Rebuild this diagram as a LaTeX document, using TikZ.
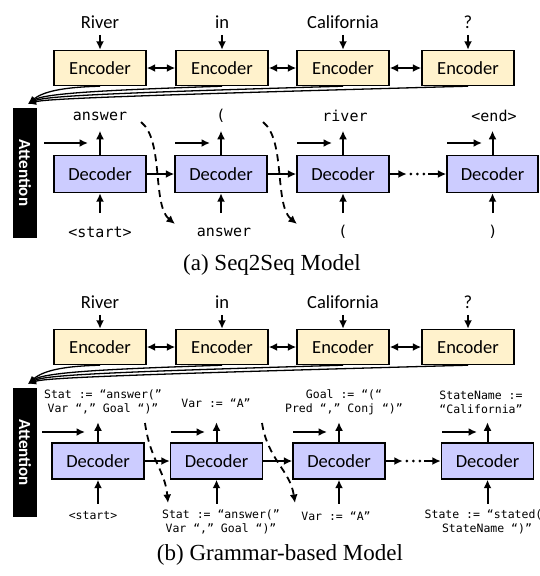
\documentclass[tikz,border=0pt]{standalone}
\usepackage{fontspec}
\setmainfont{Liberation Serif}
\newfontfamily\calib{Carlito}
\newfontfamily\monof{DejaVu Sans Mono}
\usetikzlibrary{arrows.meta}

\definecolor{encfill}{HTML}{FFF2CC}
\definecolor{decfill}{HTML}{CCCCFF}

\begin{document}
\begin{tikzpicture}[x=1pt,y=-1pt,
  box/.style={draw, line width=1.4pt, inner sep=0pt, minimum width=92pt,
    font=\calib\fontsize{18.5}{20}\selectfont},
  enc/.style={box, fill=encfill, minimum height=35pt},
  dec/.style={box, fill=decfill, minimum height=37pt},
  word/.style={inner sep=0pt, font=\calib\fontsize{18.5}{20}\selectfont},
  tokA/.style={inner sep=0pt, font=\monof\fontsize{15}{17}\selectfont},
  tokB/.style={inner sep=0pt, align=center, font=\monof\fontsize{11.5}{14}\selectfont},
  tip/.tip={Latex[length=8.5pt,width=8pt]},
  arr/.style={line width=2pt, -tip},
  biarr/.style={line width=2pt, tip-tip},
  feed/.style={line width=1.8pt, dash pattern=on 7pt off 5pt, -tip},
  attn/.style={line width=1.3pt, -{Latex[length=8pt,width=7pt]}},
  attbar/.style={fill=black, minimum width=24pt, inner sep=0pt},
  attlabel/.style={rotate=-90, text=white, inner sep=0pt,
    font=\calib\bfseries\fontsize{17}{17}\selectfont},
  dotrow/.style={line width=3pt, line cap=round, dash pattern=on 0pt off 6.5pt},
  caption/.style={inner sep=0pt, font=\fontsize{23}{26}\selectfont}
]
\useasboundingbox (0,0) rectangle (539,576);

% ================= (a) Seq2Seq model =================
% encoder row
\node[enc] (ea1) at (100,68) {Encoder};
\node[enc] (ea2) at (222,68) {Encoder};
\node[enc] (ea3) at (343,68) {Encoder};
\node[enc] (ea4) at (468,68) {Encoder};
\node[word] (wa1) at (100,22) {River};
\node[word] (wa2) at (222,22) {in};
\node[word] (wa3) at (343,22) {California};
\node[word] (wa4) at (468,22) {?};
\foreach \i in {1,...,4} \draw[arr] ([yshift=15pt]ea\i.north) -- (ea\i.north);
\draw[biarr] (ea1) -- (ea2);
\draw[biarr] (ea2) -- (ea3);
\draw[biarr] (ea3) -- (ea4);

% attention bar
\node[attbar, minimum height=130pt] (atta) at (25,173) {};
\node[attlabel] (attaT) at (atta.center) {Attention};
\coordinate (attaIn) at ([shift={(3pt,4pt)}]atta.north);
\draw[attn] (ea1.south) .. controls (70,87) and (45,90) .. (attaIn);
\draw[attn] (ea2.south) .. controls (110,90) and (45,93) .. (attaIn);
\draw[attn] (ea3.south) .. controls (110,93) and (45,96) .. (attaIn);
\draw[attn] (ea4.south) .. controls (110,96) and (45,99) .. (attaIn);

% decoder row
\node[dec] (da1) at (100,174) {Decoder};
\node[dec] (da2) at (221,174) {Decoder};
\node[dec] (da3) at (343,174) {Decoder};
\node[dec, minimum width=91pt] (da4) at (492.5,174) {Decoder};
\node[inner sep=0pt, minimum width=21pt, minimum height=4pt] (dA) at (417.5,174) {};
\draw[arr] (da1) -- (da2);
\draw[arr] (da2) -- (da3);
\draw[arr] (da3.east) -- (dA.west);
\draw[dotrow] ([xshift=4pt]dA.west) -- ([xshift=-3pt]dA.east);
\draw[arr] (dA.east) -- (da4.west);
\foreach \i in {1,...,4} {
  \draw[arr] (da\i.north) -- ([yshift=24pt]da\i.north);
  \draw[arr] ([yshift=-20pt]da\i.south) -- (da\i.south);
}
% attention context into each step
\coordinate (ha1s) at (44,143);  \coordinate (ha1e) at (88,143);
\coordinate (ha2s) at (175,143); \coordinate (ha2e) at (210,143);
\coordinate (ha3s) at (297,143); \coordinate (ha3e) at (332,143);
\coordinate (ha4s) at (447,143); \coordinate (ha4e) at (482,143);
\foreach \i in {1,...,4} \draw[arr] (ha\i s) -- (ha\i e);

% output / input tokens
\node[tokA] (oa1) at (100,116) {answer};
\node[tokA] (oa2) at (221,116) {(};
\node[tokA] (oa3) at (345,116) {river};
\node[tokA] (oa4) at (494,116) {<end>};
\node[tokA] (ia1) at (100,232) {<start>};
\node[tokA] (ia2) at (224,232) {answer};
\node[tokA] (ia3) at (343,232) {(};
\node[tokA] (ia4) at (493,232) {)};

% previous output fed back as next input
\coordinate (fa1s) at (141,122); \coordinate (fa1e) at (175,224);
\coordinate (fa2s) at (263,122); \coordinate (fa2e) at (297,224);
\draw[feed] (fa1s) .. controls (164,140) and (152,205) .. (fa1e);
\draw[feed] (fa2s) .. controls (286,140) and (274,205) .. (fa2e);

\node[caption] (capa) at (272,265) {(a) Seq2Seq Model};

% ================= (b) Grammar-based model =================
\node[enc] (eb1) at (100,347) {Encoder};
\node[enc] (eb2) at (222,347) {Encoder};
\node[enc] (eb3) at (343,347) {Encoder};
\node[enc] (eb4) at (468,347) {Encoder};
\node[word] (wb1) at (100,302) {River};
\node[word] (wb2) at (222,302) {in};
\node[word] (wb3) at (343,302) {California};
\node[word] (wb4) at (468,302) {?};
\foreach \i in {1,...,4} \draw[arr] ([yshift=14pt]eb\i.north) -- (eb\i.north);
\draw[biarr] (eb1) -- (eb2);
\draw[biarr] (eb2) -- (eb3);
\draw[biarr] (eb3) -- (eb4);

\node[attbar, minimum height=129pt] (attb) at (25,452.5) {};
\node[attlabel] (attbT) at (attb.center) {Attention};
\coordinate (attbIn) at ([shift={(3pt,4pt)}]attb.north);
\draw[attn] (eb1.south) .. controls (70,366) and (45,369) .. (attbIn);
\draw[attn] (eb2.south) .. controls (110,369) and (45,372) .. (attbIn);
\draw[attn] (eb3.south) .. controls (110,372) and (45,375) .. (attbIn);
\draw[attn] (eb4.south) .. controls (110,375) and (45,378) .. (attbIn);

\node[dec, minimum height=36pt] (db1) at (98,461) {Decoder};
\node[dec, minimum height=36pt] (db2) at (216.5,461) {Decoder};
\node[dec, minimum height=36pt] (db3) at (339,461) {Decoder};
\node[dec, minimum height=36pt] (db4) at (487.5,461) {Decoder};
\node[inner sep=0pt, minimum width=21pt, minimum height=4pt] (dB) at (413.5,461) {};
\draw[arr] (db1) -- (db2);
\draw[arr] (db2) -- (db3);
\draw[arr] (db3.east) -- (dB.west);
\draw[dotrow] ([xshift=4pt]dB.west) -- ([xshift=-3pt]dB.east);
\draw[arr] (dB.east) -- (db4.west);
\foreach \i in {1,...,4} {
  \draw[arr] (db\i.north) -- ([yshift=20pt]db\i.north);
  \draw[arr] ([yshift=-24pt]db\i.south) -- (db\i.south);
}
\coordinate (hb1s) at (42,432);  \coordinate (hb1e) at (85,432);
\coordinate (hb2s) at (171,432); \coordinate (hb2e) at (205,432);
\coordinate (hb3s) at (293,432); \coordinate (hb3e) at (327,432);
\coordinate (hb4s) at (442,432); \coordinate (hb4e) at (477,432);
\foreach \i in {1,...,4} \draw[arr] (hb\i s) -- (hb\i e);

% grammar rules produced / consumed at each step
\node[tokB] (ob1) at (103,402) {Stat := “answer(”\\Var “,” Goal “)”};
\node[tokB] (ob2) at (216,403) {Var := “A”};
\node[tokB] (ob3) at (344,402) {Goal := “(“\\Pred “,” Conj “)”};
\node[tokB] (ob4) at (481,402) {StateName :=\\“California”};
\node[tokB] (ib1) at (93,516) {<start>};
\node[tokB] (ib2) at (221,522) {Stat := “answer(”\\Var “,” Goal “)”};
\node[tokB] (ib3) at (336,516) {Var := “A”};
\node[tokB] (ib4) at (487,522) {State := “stated(”\\StateName “)”};

\coordinate (fb1s) at (145,423); \coordinate (fb1e) at (168,503);
\coordinate (fb2s) at (262,423); \coordinate (fb2e) at (295,503);
\draw[feed] (fb1s) .. controls (150,460) and (165,470) .. (fb1e);
\draw[feed] (fb2s) .. controls (268,460) and (290,470) .. (fb2e);

\node[caption] (capb) at (280,555) {(b) Grammar-based Model};
\end{tikzpicture}
\end{document}
